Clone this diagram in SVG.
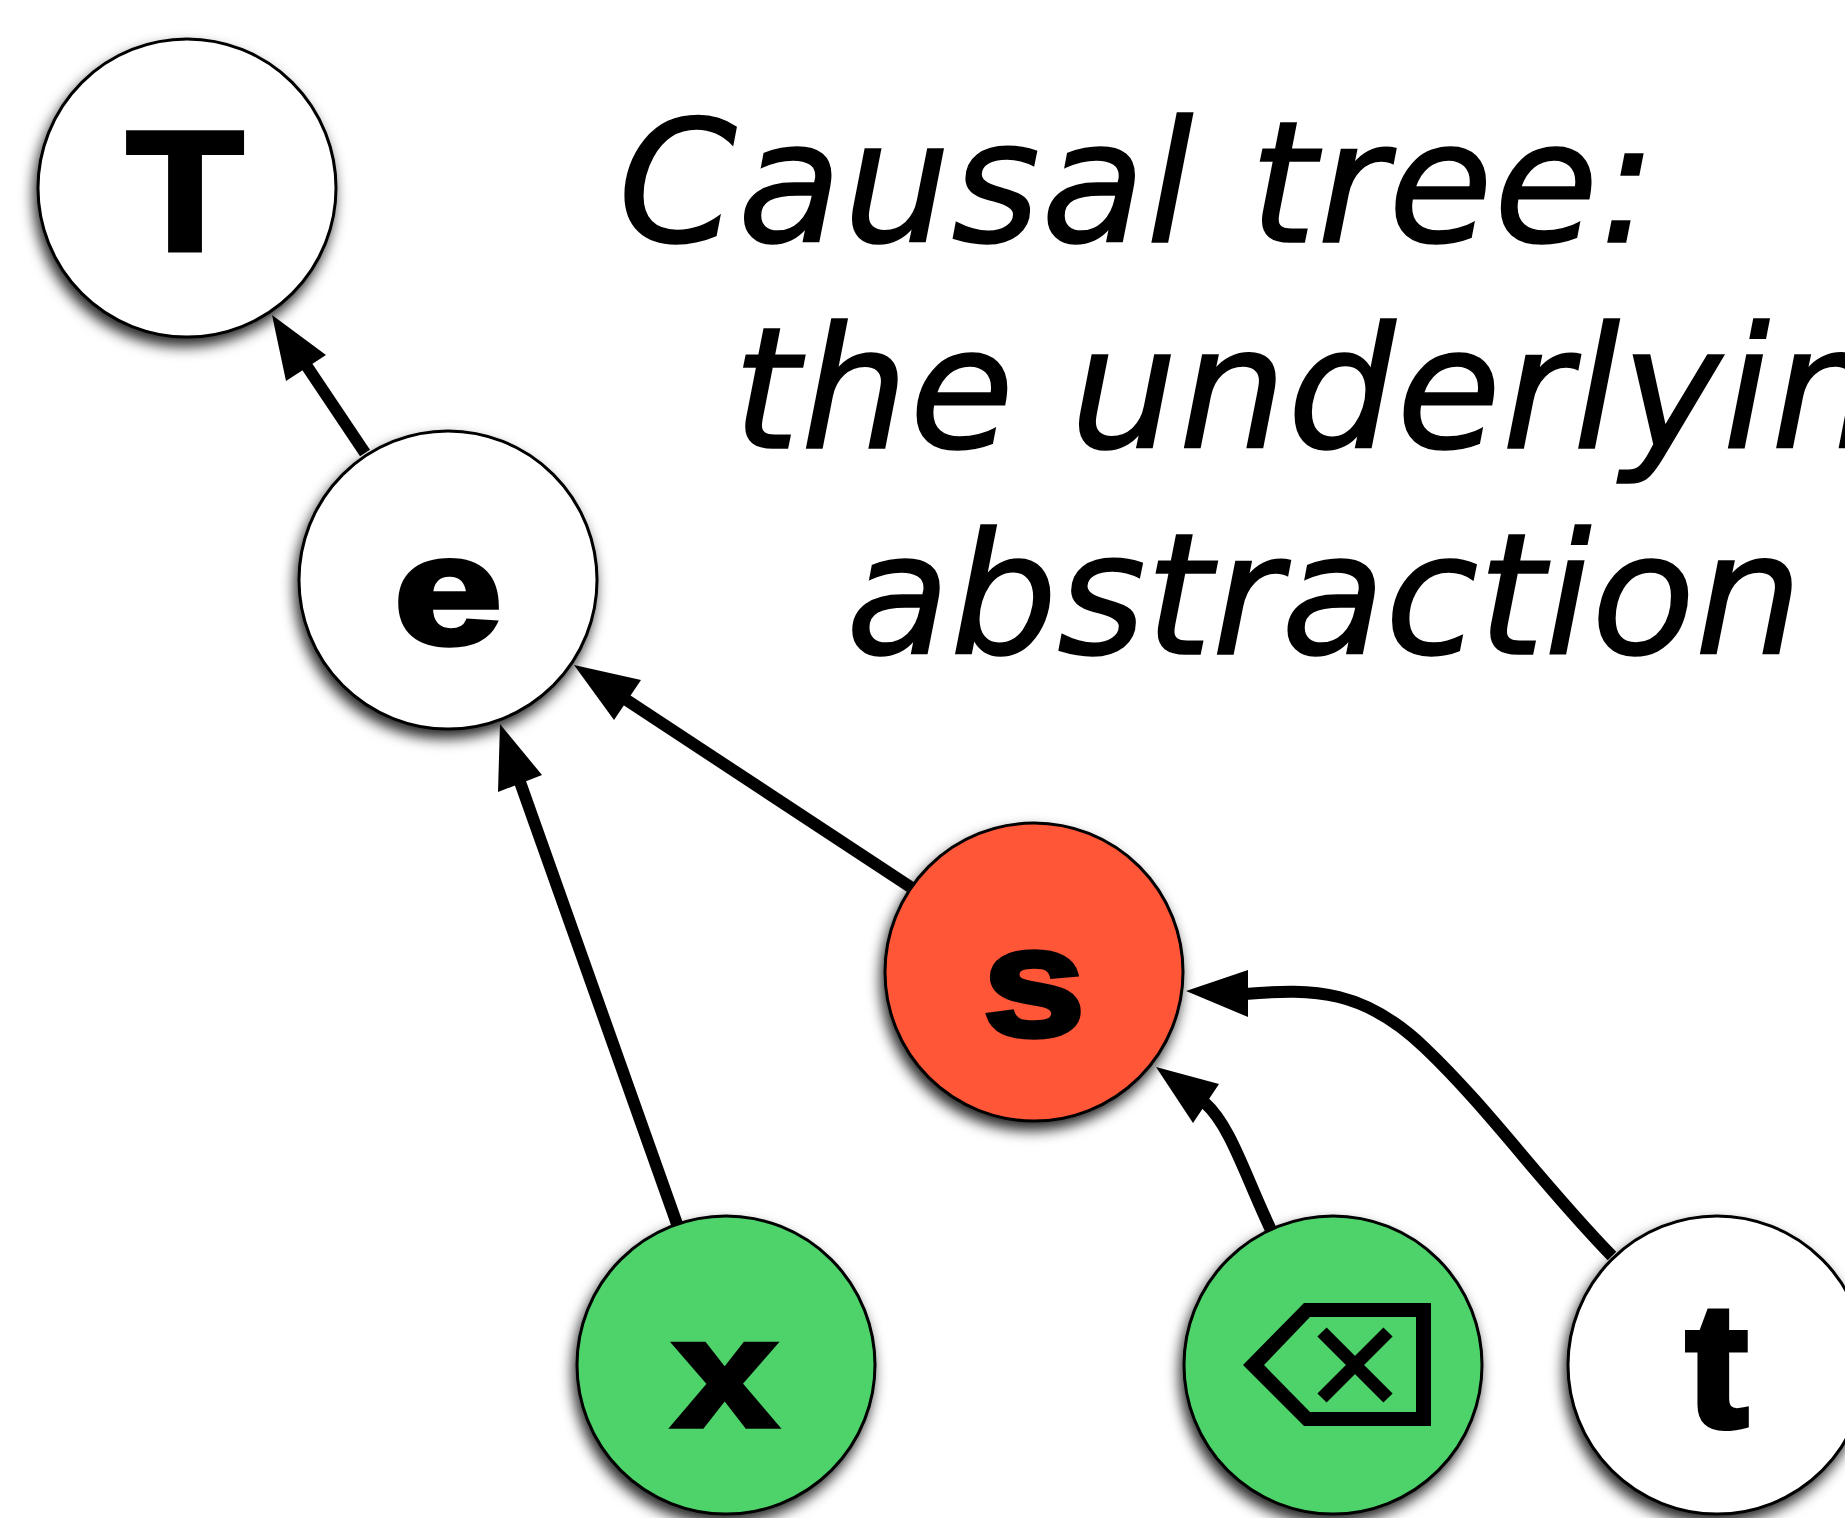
<svg xmlns="http://www.w3.org/2000/svg" width="1845" height="1518" viewBox="0 0 1845 1518">
<defs>
<filter id="sh" x="-20%" y="-20%" width="140%" height="140%"><feDropShadow dx="-3" dy="8" stdDeviation="7" flood-color="#000" flood-opacity="0.85"/></filter>
</defs>
<style>
.n{stroke:#000;stroke-width:3;filter:url(#sh)}
.w{fill:#fff}.g{fill:#4dd36b}.r{fill:#ff5638}
.l{font-family:"Liberation Sans",Arial,sans-serif;font-weight:700;font-size:172px;fill:#000;stroke:#000;stroke-width:6;text-anchor:middle}
.t{font-family:"DejaVu Sans",Verdana,sans-serif;font-style:italic;font-size:170px;fill:#000;stroke:#000;stroke-width:1.5}
.c{fill:none;stroke:#000;stroke-width:12}
.h{fill:#000}
</style>
<g id="connectors">
<path class="c" d="M365,453L298,353"/><polygon class="h" points="272,315 286,381 326,355"/>
<path class="c" d="M912,888L625,699"/><polygon class="h" points="574,665 614,720 641,680"/>
<path class="c" d="M677,1224L520,782"/><polygon class="h" points="500,724 498,792 542,775"/>
<path class="c" d="M1271,1230C1245,1175 1230,1125 1205,1103"/><polygon class="h" points="1156,1067 1193,1123 1219,1084"/>
<path class="c" d="M1612,1256C1540,1182 1490,1110 1425,1048C1365,990 1315,988 1245,994"/><polygon class="h" points="1186,991 1248,1017 1248,970"/>
</g>
<g id="node-T"><circle class="n w" cx="187" cy="188" r="149"/><text class="l" transform="translate(185,250) scale(1.1,.98)">T</text></g>
<g id="node-e"><circle class="n w" cx="448" cy="580" r="149"/><text class="l" transform="translate(448,644) scale(1.13,.9)">e</text></g>
<g id="node-s"><circle class="n r" cx="1034" cy="972" r="149"/><text class="l" transform="translate(1034,1036) scale(1.07,.9)">s</text></g>
<g id="node-x"><circle class="n g" cx="726" cy="1365" r="149"/><text class="l" transform="translate(725,1426) scale(1.08,.9)">x</text></g>
<g id="node-backspace"><circle class="n g" cx="1333" cy="1365" r="149"/>
<path d="M1243,1365L1304,1303H1431V1426H1304ZM1264,1365L1310,1412H1416V1317H1310Z" fill="#000" fill-rule="evenodd"/>
<path d="M1322,1332L1388,1398M1388,1332L1322,1398" fill="none" stroke="#000" stroke-width="13"/></g>
<g id="node-t"><circle class="n w" cx="1717" cy="1365" r="149"/><text class="l" transform="translate(1717,1426) scale(1.08,1.03)">t</text></g>
<g id="title">
<text class="t" x="618" y="242" letter-spacing="1">Causal tree:</text>
<text class="t" x="733" y="448" letter-spacing="1">the underlying</text>
<text class="t" x="846" y="654" letter-spacing="-0.4">abstraction</text>
</g>
</svg>
